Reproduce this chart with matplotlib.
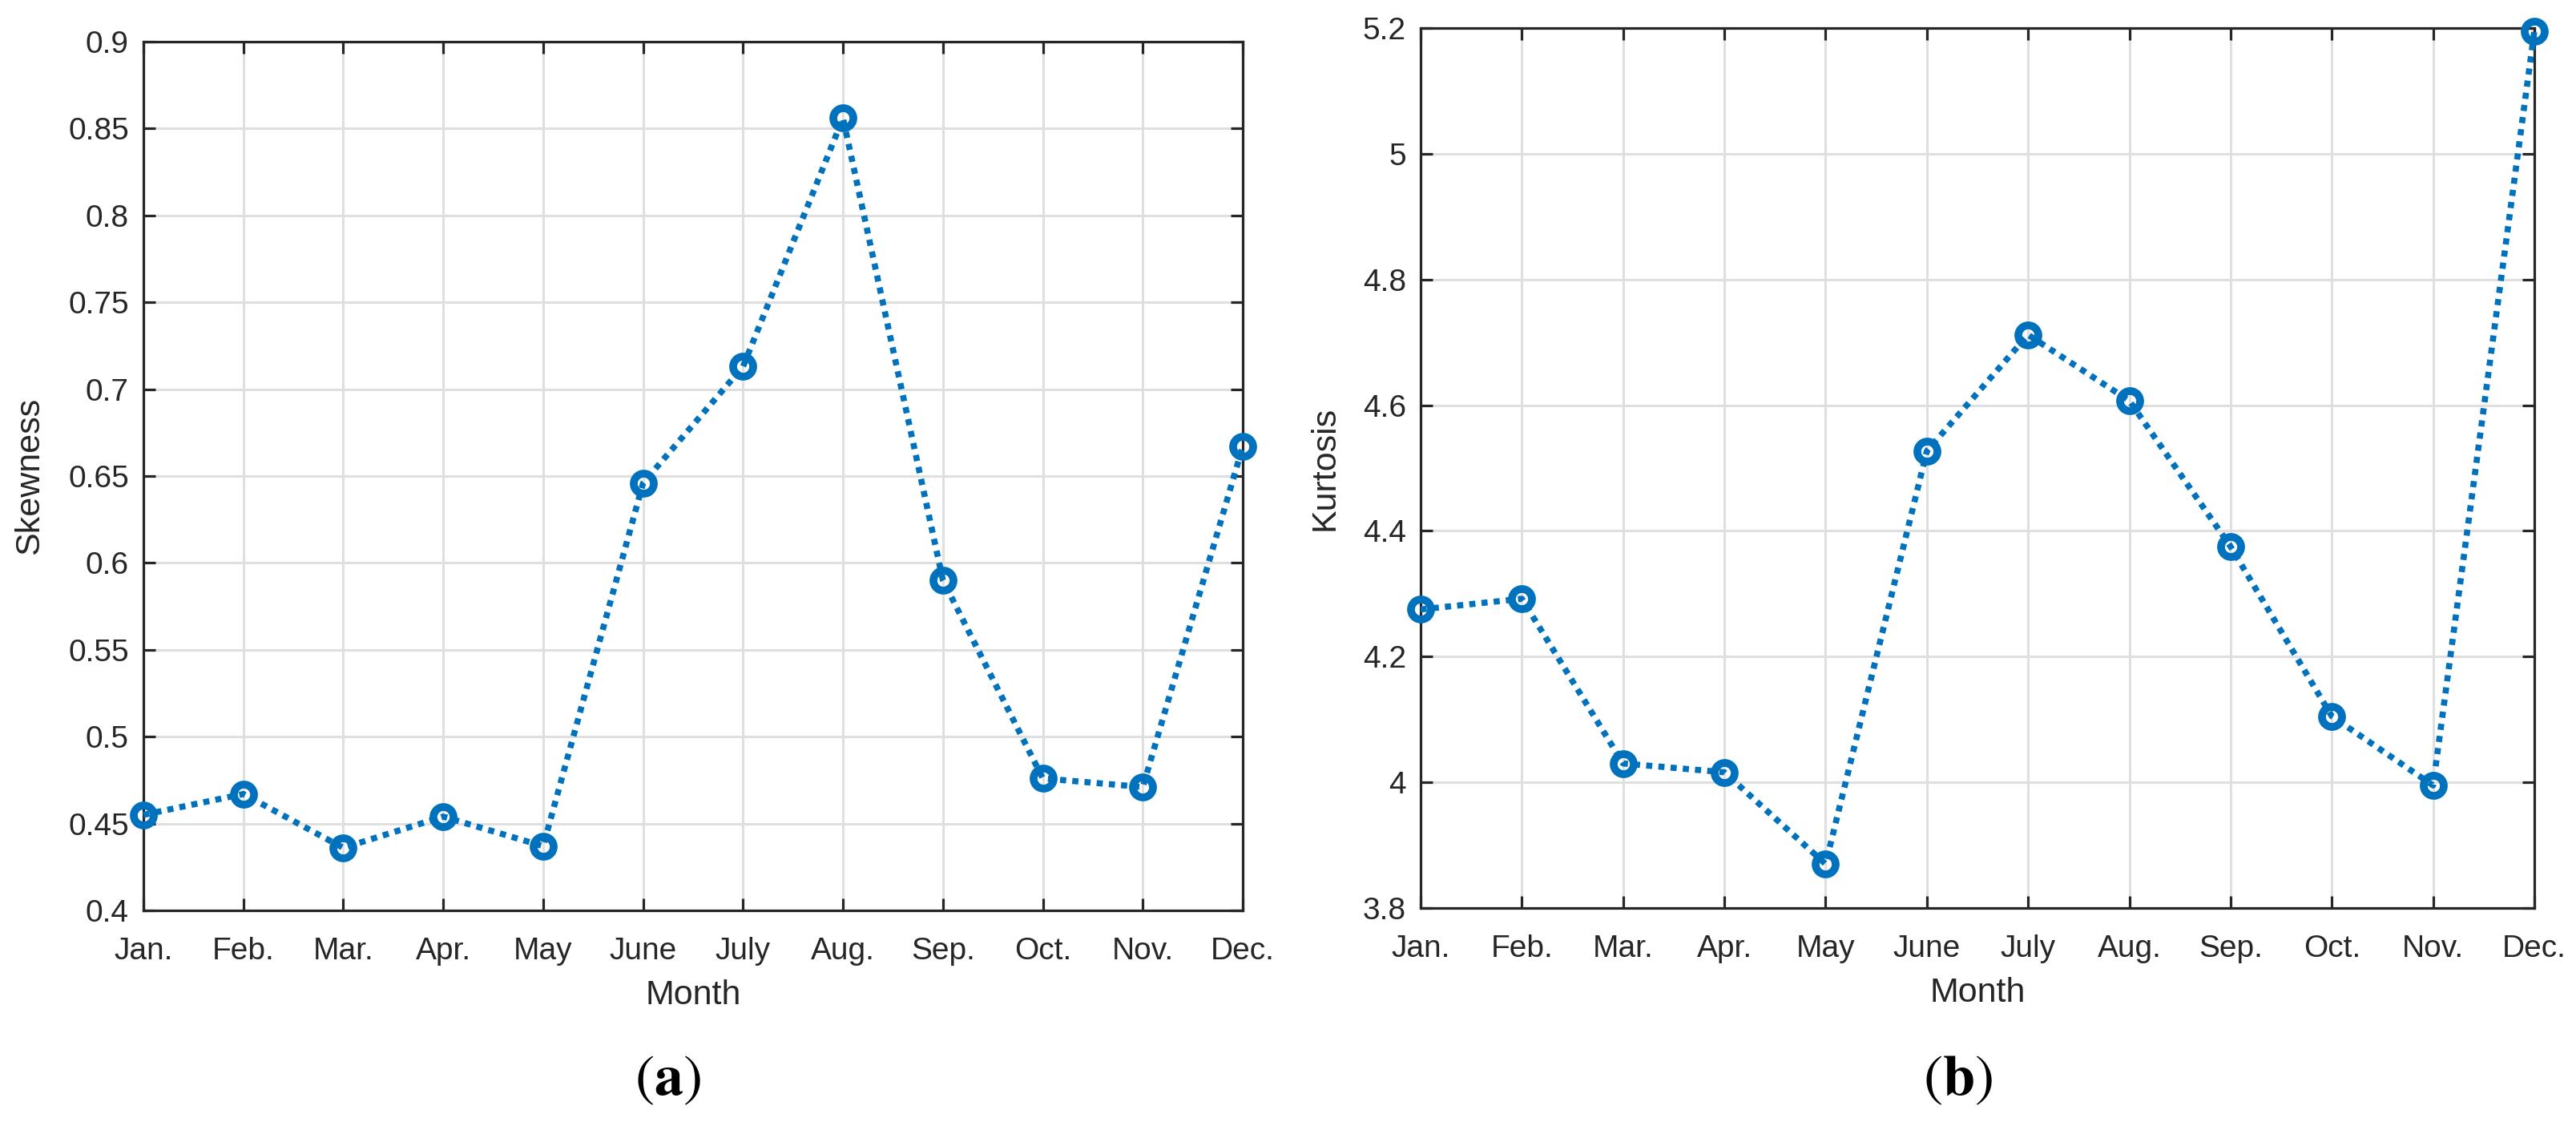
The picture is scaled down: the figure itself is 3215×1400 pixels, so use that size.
import matplotlib
matplotlib.use('Agg')
import matplotlib.pyplot as plt
from matplotlib.ticker import FuncFormatter, MultipleLocator

months = ['Jan.', 'Feb.', 'Mar.', 'Apr.', 'May', 'June', 'July', 'Aug.', 'Sep.', 'Oct.', 'Nov.', 'Dec.']
skewness = [0.455, 0.467, 0.436, 0.454, 0.437, 0.646, 0.713, 0.856, 0.590, 0.476, 0.471, 0.667]
kurtosis = [4.275, 4.292, 4.030, 4.016, 3.870, 4.527, 4.712, 4.607, 4.375, 4.105, 3.995, 5.195]

plt.rcParams['font.family'] = ['Liberation Sans', 'DejaVu Sans']
plt.rcParams['mathtext.fontset'] = 'stix'

blue = '#0072BD'
dark = '#262626'

fig = plt.figure(figsize=(32.16, 14), dpi=100)
ax1 = fig.add_axes([179 / 3216, 1 - 1136 / 1400, 1372 / 3216, 1084 / 1400])
ax2 = fig.add_axes([1773 / 3216, 1 - 1133 / 1400, 1390 / 3216, 1098 / 1400])

x = list(range(1, len(months) + 1))


def style(ax, data, ylim, step, ylabel):
    ax.plot(x, data, color=blue, lw=5.5, ls=(0, (1, 1)), dash_capstyle='butt',
            marker='o', ms=18, mew=7, mfc='none', mec=blue, zorder=3, clip_on=False)
    ax.set_xlim(1, 12)
    ax.set_ylim(*ylim)
    ax.set_xticks(x)
    ax.set_xticklabels(months)
    ax.yaxis.set_major_locator(MultipleLocator(step))
    ax.yaxis.set_major_formatter(FuncFormatter(lambda v, p: '%g' % round(v, 3)))
    ax.grid(True, color='#DFDFDF', lw=2.2, zorder=0)
    ax.set_axisbelow(True)
    for s in ax.spines.values():
        s.set_color(dark)
        s.set_linewidth(2.3)
    ax.tick_params(direction='in', length=11, width=2.3, color=dark,
                   labelsize=28, labelcolor=dark, top=True, right=True)
    ax.tick_params(axis='x', pad=24)
    ax.tick_params(axis='y', pad=13)
    ax.set_xlabel('Month', fontsize=31, color=dark, labelpad=12)
    ax.set_ylabel(ylabel, fontsize=31, color=dark, labelpad=20)


style(ax1, skewness, (0.4, 0.9), 0.05, 'Skewness')
style(ax2, kurtosis, (3.8, 5.2), 0.2, 'Kurtosis')

fig.text(833 / 3216, 1 - 1348 / 1400, r'$(\mathbf{a})$', fontsize=52, ha='center', va='center')
fig.text(2443 / 3216, 1 - 1348 / 1400, r'$(\mathbf{b})$', fontsize=52, ha='center', va='center')

fig.savefig('out.png', dpi=100, facecolor='white')
